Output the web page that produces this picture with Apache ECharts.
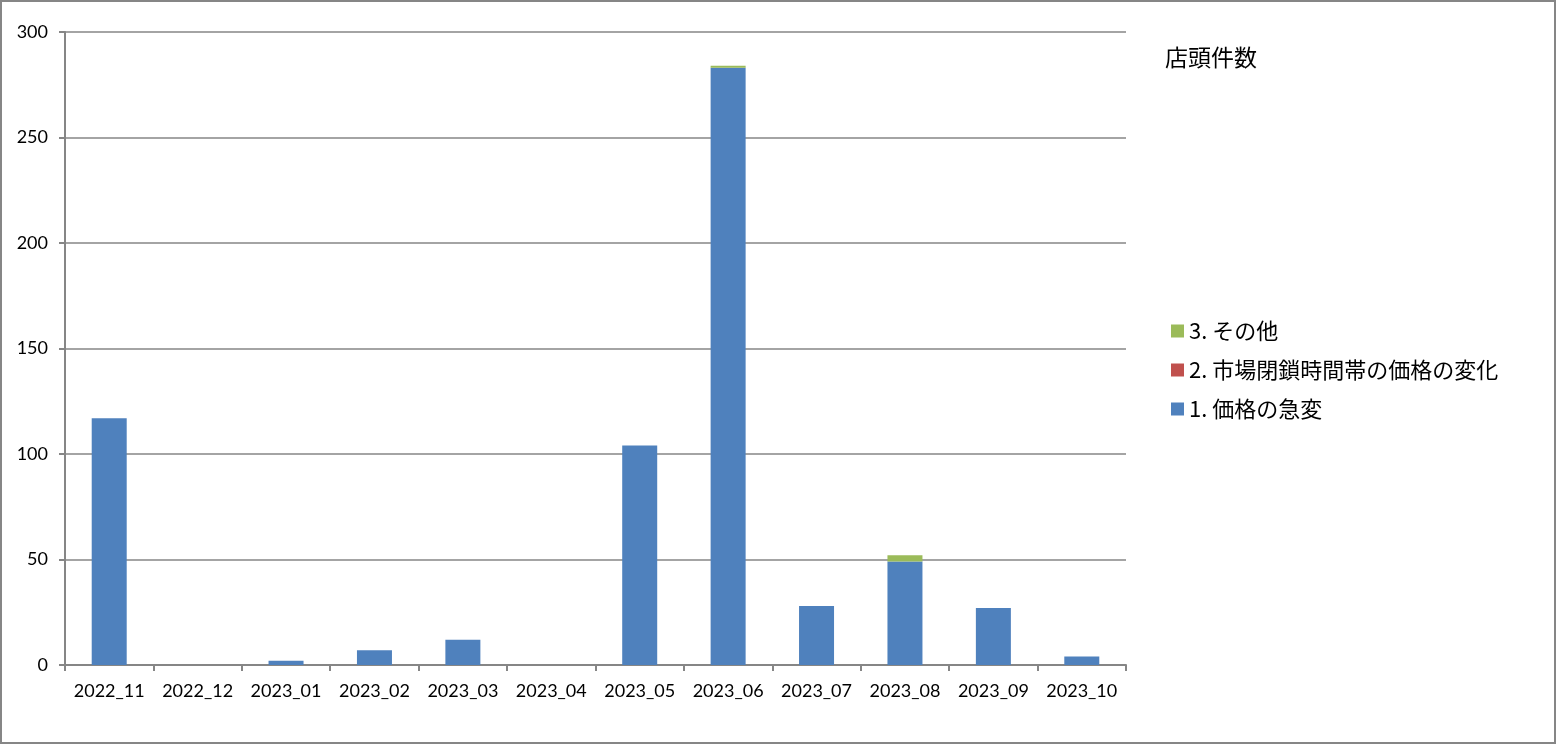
<!DOCTYPE html>
<html>
<head>
<meta charset="utf-8">
<script src="https://cdn.jsdelivr.net/npm/echarts@6/dist/echarts.min.js"></script>
<style>
html,body{margin:0;padding:0;background:#fff;}
#c{width:1556px;height:744px;}
</style>
</head>
<body>
<div id="c"></div>
<script>
const categories = ['2022_11','2022_12','2023_01','2023_02','2023_03','2023_04','2023_05','2023_06','2023_07','2023_08','2023_09','2023_10'];
const seriesNames = ['1. 価格の急変','2. 市場閉鎖時間帯の価格の変化','3. その他'];
const priceJump = [117, 0, 2, 7, 12, 0, 104, 283, 28, 49, 27, 4];
const closedHours = [0, 0, 0, 0, 0, 0, 0, 0, 0, 0, 0, 0];
const others = [0, 0, 0, 0, 0, 0, 0, 1, 0, 3, 0, 0];
const yTicks = [0, 50, 100, 150, 200, 250, 300];
const titleText = '店頭件数';

const colors = ['#4F81BD', '#C0504D', '#9BBB59'];
const gray = '#868686';
const latin = 'Lato, "Liberation Sans", sans-serif';
const cjk = '"Noto Sans CJK JP", "Noto Sans", sans-serif';

const chart = echarts.init(document.getElementById('c'));
chart.setOption({
  animation: false,
  backgroundColor: '#fff',
  color: colors,
  graphic: [{
    type: 'rect', silent: true, z: 100,
    shape: {x: 1, y: 1, width: 1554, height: 742},
    style: {fill: 'none', stroke: gray, lineWidth: 2}
  }],
  title: {
    text: titleText, left: 1160, top: 41,
    textStyle: {fontFamily: cjk, fontSize: 23, fontWeight: 'normal', color: '#000'}
  },
  legend: {
    orient: 'vertical', left: 1166, top: 314,
    itemWidth: 13, itemHeight: 13, itemGap: 15,
    icon: 'rect',
    data: [seriesNames[2], seriesNames[1], seriesNames[0]],
    textStyle: {fontFamily: cjk, fontSize: 22, color: '#000', lineHeight: 24}
  },
  grid: {left: 65, right: 430, top: 32, bottom: 79, containLabel: false},
  xAxis: {
    type: 'category', data: categories,
    axisLine: {lineStyle: {color: gray, width: 2}},
    axisTick: {show: true, length: 6, lineStyle: {color: gray, width: 2}},
    axisLabel: {fontFamily: latin, fontSize: 18, color: '#000', margin: 17, interval: 0}
  },
  yAxis: {
    type: 'value', min: yTicks[0], max: yTicks[yTicks.length - 1], interval: 50,
    axisLine: {show: true, lineStyle: {color: gray, width: 2}},
    axisTick: {show: true, length: 6, lineStyle: {color: gray, width: 2}},
    splitLine: {lineStyle: {color: gray, width: 1.5}},
    axisLabel: {fontFamily: latin, fontSize: 18, color: '#000', margin: 17}
  },
  series: [
    {name: seriesNames[0], type: 'bar', stack: 's', data: priceJump, barWidth: 35, itemStyle: {color: colors[0]}},
    {name: seriesNames[1], type: 'bar', stack: 's', data: closedHours, barWidth: 35, itemStyle: {color: colors[1]}},
    {name: seriesNames[2], type: 'bar', stack: 's', data: others, barWidth: 35, itemStyle: {color: colors[2]}}
  ]
});
</script>
</body>
</html>
